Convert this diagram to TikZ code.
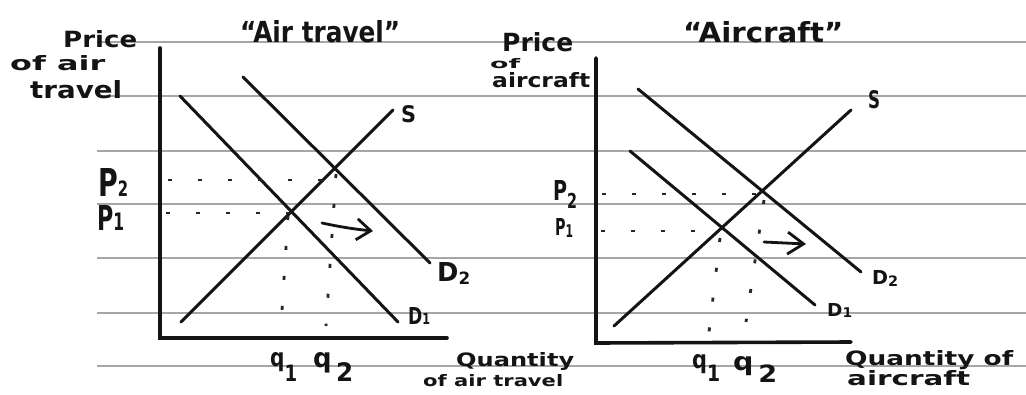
\documentclass[tikz,border=0pt]{standalone}
\usepackage{fontspec}
\setmainfont{DejaVu Sans}
\usepackage{graphicx}
\usetikzlibrary{arrows.meta,calc}
\newcommand\hw[3]{\resizebox{#1pt}{#2pt}{#3}}
\begin{document}
\begin{tikzpicture}[x=1pt,y=-1pt,
  rule/.style={draw=black!35, line width=1.4pt},
  curve/.style={draw=black!92, line width=3pt, line cap=round},
  axis/.style={draw=black!92, line width=3.6pt, line cap=round},
  guide/.style={draw=black!85, line width=2.8pt, dash pattern=on 4pt off 26pt},
  shiftarrow/.style={draw=black!92, line width=2.8pt, line cap=round},
  lab/.style={inner sep=0pt, anchor=base west, text=black!92, font=\bfseries}]
\useasboundingbox (0,0) rectangle (1026,394);
\fill[white] (0,0) rectangle (1026,394);
% ruled paper lines
\foreach \yy in {42,96,151,204,258,313,366} {\draw[rule] (97,\yy) -- (1026,\yy);}

% ---------------- left graph: air travel ----------------
\coordinate (LO) at (160,338);
\coordinate (LYtop) at (160,48);
\coordinate (LXend) at (447,338);
\draw[axis] (LYtop) -- (LO) -- (LXend);
\coordinate (LD1a) at (180,96);  \coordinate (LD1b) at (398,322);
\coordinate (LD2a) at (243,77);  \coordinate (LD2b) at (430,263);
\coordinate (LSa)  at (181,322); \coordinate (LSb)  at (393,110);
\draw[curve] (LD1a) -- (LD1b);
\draw[curve] (LD2a) -- (LD2b);
\draw[curve] (LSa) -- (LSb);
\coordinate (LE1) at (intersection cs: first line={(LSa)--(LSb)}, second line={(LD1a)--(LD1b)});
\coordinate (LE2) at (intersection cs: first line={(LSa)--(LSb)}, second line={(LD2a)--(LD2b)});
\coordinate (LP2s) at (168,180); \coordinate (LP2e) at (337,180);
\coordinate (LP1s) at (166,213); \coordinate (LP1e) at (289,213);
\coordinate (Lq1s) at (288,216); \coordinate (Lq1e) at (281,326);
\coordinate (Lq2s) at (336,174); \coordinate (Lq2e) at (326,326);
\draw[guide] (LP2s) -- (LP2e);
\draw[guide] (LP1s) -- (LP1e);
\draw[guide] (Lq1s) -- (Lq1e);
\draw[guide] (Lq2s) -- (Lq2e);
\coordinate (LAs) at (322,223); \coordinate (LAe) at (373,231);
\draw[shiftarrow, -{Straight Barb[length=14pt,width=21pt,line width=2.8pt]}] (LAs) to[bend right=3] (LAe);

\node[lab] (LPrice)  at (63,47)  {\hw{74}{17}{Price}};
\node[lab] (LOfair)  at (10,70)  {\hw{95}{15}{of air}};
\node[lab] (LTravel) at (30,98)  {\hw{92}{18}{travel}};
\node[lab] (LTitle)  at (240,42) {\hw{160}{22}{“Air travel”}};
\node[lab] (LS)      at (401,122) {\hw{15}{17}{S}};
\node[lab] (LD2)     at (437,281) {\hw{33}{19}{D\raisebox{-0.12em}{\scalebox{0.65}{2}}}};
\node[lab] (LD1)     at (408,324) {\hw{22}{17}{D\scalebox{0.65}{1}}};
\node[lab] (LP2)     at (98,196)  {\hw{30}{28}{P\scalebox{0.55}{2}}};
\node[lab] (LP1)     at (97,230)  {\hw{27}{25}{P\scalebox{0.7}{1}}};
\node[lab] (Lq1)     at (270,366) {\hw{27}{14}{q\raisebox{-0.62em}{\scalebox{0.9}{1}}}};
\node[lab] (Lq2)     at (313,367) {\hw{40}{15}{q\,\raisebox{-0.55em}{\scalebox{0.95}{2}}}};
\node[lab] (LQty)    at (456,366) {\hw{118}{14}{Quantity}};
\node[lab] (LQof)    at (423,386) {\hw{140}{12}{of air travel}};

% ---------------- right graph: aircraft ----------------
\coordinate (RO) at (596,343);
\coordinate (RYtop) at (596,58);
\coordinate (RXend) at (851,342);
\draw[axis] (RYtop) -- (RO) -- (RXend);
\coordinate (RD1a) at (630,151); \coordinate (RD1b) at (815,305);
\coordinate (RD2a) at (638,89);  \coordinate (RD2b) at (861,272);
\coordinate (RSa)  at (614,326); \coordinate (RSb)  at (851,110);
\draw[curve] (RD1a) -- (RD1b);
\draw[curve] (RD2a) -- (RD2b);
\draw[curve] (RSa) -- (RSb);
\coordinate (RE1) at (intersection cs: first line={(RSa)--(RSb)}, second line={(RD1a)--(RD1b)});
\coordinate (RE2) at (intersection cs: first line={(RSa)--(RSb)}, second line={(RD2a)--(RD2b)});
\coordinate (RP2s) at (602,194); \coordinate (RP2e) at (762,194);
\coordinate (RP1s) at (601,231); \coordinate (RP1e) at (718,231);
\coordinate (Rq1s) at (720,238); \coordinate (Rq1e) at (709,332);
\coordinate (Rq2s) at (764,200); \coordinate (Rq2e) at (746,322);
\draw[guide] (RP2s) -- (RP2e);
\draw[guide] (RP1s) -- (RP1e);
\draw[guide] (Rq1s) -- (Rq1e);
\draw[guide] (Rq2s) -- (Rq2e);
\coordinate (RAs) at (764,242); \coordinate (RAe) at (806,244);
\draw[shiftarrow, -{Straight Barb[length=16pt,width=22pt,line width=2.8pt]}] (RAs) -- (RAe);

\node[lab] (RPrice)  at (502,51)  {\hw{71}{19}{Price}};
\node[lab] (ROf)     at (490,68)  {\hw{30}{10}{of}};
\node[lab] (RAirc)   at (492,87)  {\hw{98}{15}{aircraft}};
\node[lab] (RTitle)  at (683,42)  {\hw{160}{21}{“Aircraft”}};
\node[lab] (RS)      at (868,108) {\hw{12}{18}{S}};
\node[lab] (RD2)     at (872,284) {\hw{26}{14}{D\raisebox{-0.15em}{\scalebox{0.75}{2}}}};
\node[lab] (RD1)     at (827,316) {\hw{25}{13}{D\raisebox{-0.1em}{\scalebox{0.75}{1}}}};
\node[lab] (RP2)     at (553,200) {\hw{24}{20}{P\raisebox{-0.3em}{\scalebox{0.75}{2}}}};
\node[lab] (RP1)     at (555,235) {\hw{18}{17}{P\raisebox{-0.1em}{\scalebox{0.75}{1}}}};
\node[lab] (Rq1)     at (692,368) {\hw{28}{14}{q\raisebox{-0.55em}{\scalebox{0.9}{1}}}};
\node[lab] (Rq2)     at (733,370) {\hw{44}{14}{q\,\raisebox{-0.5em}{\scalebox{0.95}{2}}}};
\node[lab] (RQty)    at (845,365) {\hw{168}{15}{Quantity of}};
\node[lab] (RQof)    at (847,385) {\hw{123}{15}{aircraft}};
\end{tikzpicture}
\end{document}
